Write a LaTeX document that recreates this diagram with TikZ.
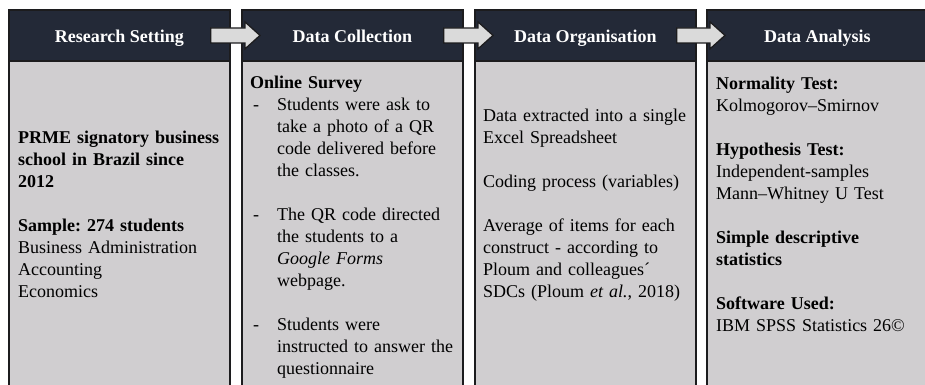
\documentclass[tikz,border=0pt]{standalone}
\usepackage{fontspec}
\setmainfont{Liberation Serif}
\frenchspacing
\usetikzlibrary{calc}
\definecolor{hdrcol}{RGB}{35,41,55}
\definecolor{bodycol}{RGB}{208,206,208}
\definecolor{edgecol}{RGB}{28,28,30}
\definecolor{arrowcol}{RGB}{218,218,218}
\newcommand{\dashmk}{\makebox[27pt][l]{\hspace{3pt}-}}
\newcommand{\indmk}{\hspace*{27pt}}
\begin{document}
\begin{tikzpicture}[x=1pt,y=-1pt,
  hdr/.style={draw=edgecol, line width=1.8pt, fill=hdrcol, minimum width=221pt, minimum height=51pt,
    anchor=north west, inner sep=0pt, text=white, font=\bfseries\fontsize{18}{22}\selectfont,
    text height=14.4pt, text depth=0pt},
  bodybox/.style={draw=edgecol, line width=1.8pt, fill=bodycol, minimum width=221pt, minimum height=340pt,
    anchor=north west, inner sep=0pt},
  txt/.style={anchor=base west, inner sep=0pt, text width=225pt, align=left, font=\fontsize{18}{22}\selectfont\frenchspacing},
  flow/.style={draw=edgecol, line width=1.3pt, fill=arrowcol, line join=miter}
]
\useasboundingbox (0,0) rectangle (925,384);
% bodies
\node[bodybox] (b1) at (8,60) {};
\node[bodybox] (b2) at (241,60) {};
\node[bodybox] (b3) at (474,60) {};
\node[bodybox] (b4) at (706,60) {};
% headers
\node[hdr] (h1) at (8,9) {Research Setting};
\node[hdr] (h2) at (241,9) {Data Collection};
\node[hdr] (h3) at (474,9) {Data Organisation};
\node[hdr] (h4) at (706,9) {Data Analysis};
% arrows
\foreach \a/\b in {h1/h2, h2/h3, h3/h4}{
  \draw[flow] ($(\a.east)+(-20,-7.5)$) -- ($(\b.west)+(4,-7.5)$) -- ($(\b.west)+(4,-13.5)$)
    -- ($(\b.west)+(19,0)$) -- ($(\b.west)+(4,13.5)$) -- ($(\b.west)+(4,7.5)$)
    -- ($(\a.east)+(-20,7.5)$) -- cycle;
}
% texts
\node[txt] (t1) at (18,143) {\textbf{PRME signatory business}\\
\textbf{school in Brazil since}\\
\textbf{2012}\\[22pt]
\textbf{Sample: 274 students}\\
Business Administration\\
Accounting\\
Economics};
\node[txt] (t2) at (250,88) {\textbf{Online Survey}\\
\dashmk Students were ask to\\
\indmk take a photo of a QR\\
\indmk code delivered before\\
\indmk the classes.\\[22pt]
\dashmk The QR code directed\\
\indmk the students to a\\
\indmk \textit{Google Forms}\\
\indmk webpage.\\[22pt]
\dashmk Students were\\
\indmk instructed to answer the\\
\indmk questionnaire};
\node[txt] (t3) at (483,121) {Data extracted into a single\\
Excel Spreadsheet\\[22pt]
Coding process (variables)\\[22pt]
Average of items for each\\
construct - according to\\
Ploum and colleagues´\\
SDCs (Ploum \textit{et al.}, 2018)};
\node[txt] (t4) at (716,89) {\textbf{Normality Test:}\\
Kolmogorov–Smirnov\\[22pt]
\textbf{Hypothesis Test:}\\
Independent-samples\\
Mann–Whitney U Test\\[22pt]
\textbf{Simple descriptive}\\
\textbf{statistics}\\[22pt]
\textbf{Software Used:}\\
IBM SPSS Statistics 26©};
\end{tikzpicture}
\end{document}
